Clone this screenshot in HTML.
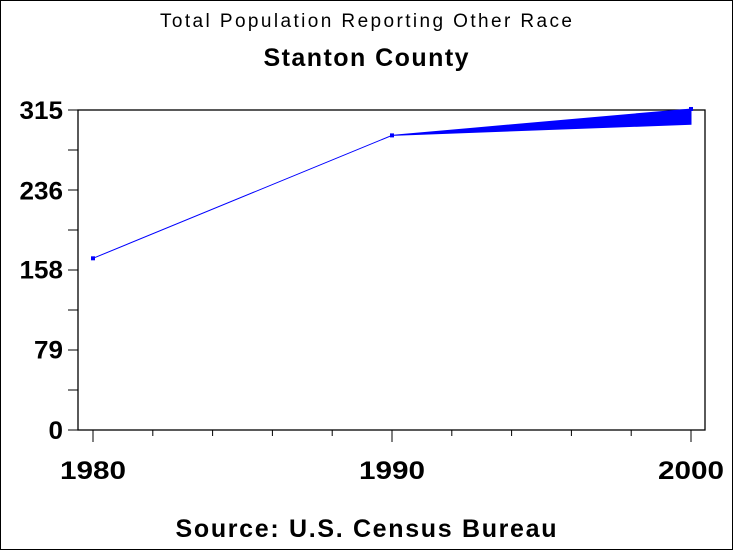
<!DOCTYPE html>
<html><head><meta charset="utf-8"><style>
body{margin:0;background:#fff}
svg{display:block;font-family:"Liberation Sans",Arial,sans-serif}
</style></head><body>
<svg id="c" width="733" height="550">
<rect x="0.5" y="0.5" width="732" height="549" fill="#fff" stroke="#000"/>
<text x="366" y="27" font-size="19" text-anchor="middle" textLength="412" lengthAdjust="spacing">Total Population Reporting Other Race</text>
<text x="366" y="66" font-size="25" font-weight="bold" text-anchor="middle" textLength="205" lengthAdjust="spacing">Stanton County</text>
<text x="366" y="537" font-size="25" font-weight="bold" text-anchor="middle" textLength="381" lengthAdjust="spacing">Source: U.S. Census Bureau</text>
<g id="g"></g>
</svg>
<script>
const years=[1980,1990,2000];
const values=[169,290,316];
const lowerValues=[169,290,301];
const yTicks=[0,79,158,236,315];
const NS="http://www.w3.org/2000/svg";
const L=78,R=705,T=110,B=430;
const x=y=>93+(y-1980)/20*598;
const yv=v=>B-v/315*(B-T);
const g=document.getElementById('g');
function mk(t,a,p){const e=document.createElementNS(NS,t);for(const k in a)e.setAttribute(k,a[k]);(p||g).appendChild(e);return e;}
const frame=mk('rect',{x:L,y:T,width:R-L,height:B-T,fill:'none',stroke:'#000','stroke-width':1.3});


for(let i=0;i<=8;i++){const v=315*i/8;const yy=yv(v);
 const t=mk('line',{x1:L-10,x2:L,y1:yy,y2:yy,stroke:'#000'});
 
 }
yTicks.forEach(v=>{const s=String(v);const t=mk('text',{x:63,y:yv(v)+9,'font-size':25,'font-weight':'bold','text-anchor':'end',textLength:s.length*14.5,lengthAdjust:'spacingAndGlyphs'});t.textContent=s;
 
 });
for(let yr=1980;yr<=2000;yr+=2){const maj=yr%10==0;const t=mk('line',{x1:x(yr),x2:x(yr),y1:B,y2:B+(maj?12:6),stroke:'#000'});
 
 }
years.forEach(yr=>{const t=mk('text',{x:x(yr),y:479,'font-size':25,'font-weight':'bold','text-anchor':'middle',textLength:66,lengthAdjust:'spacingAndGlyphs'});t.textContent=yr;
 
 });
let pts=years.map((yr,i)=>x(yr)+','+yv(values[i]));
let low=years.map((yr,i)=>x(yr)+','+yv(lowerValues[i])).reverse();
const band=mk('polygon',{points:pts.concat(low).join(' '),fill:'#0000ff',stroke:'#0000ff','stroke-width':1});


years.forEach((yr,i)=>{const m=mk('rect',{x:x(yr)-2,y:yv(values[i])-2,width:4,height:4,fill:'#0000ff'});
 
 });
</script>
</body></html>
